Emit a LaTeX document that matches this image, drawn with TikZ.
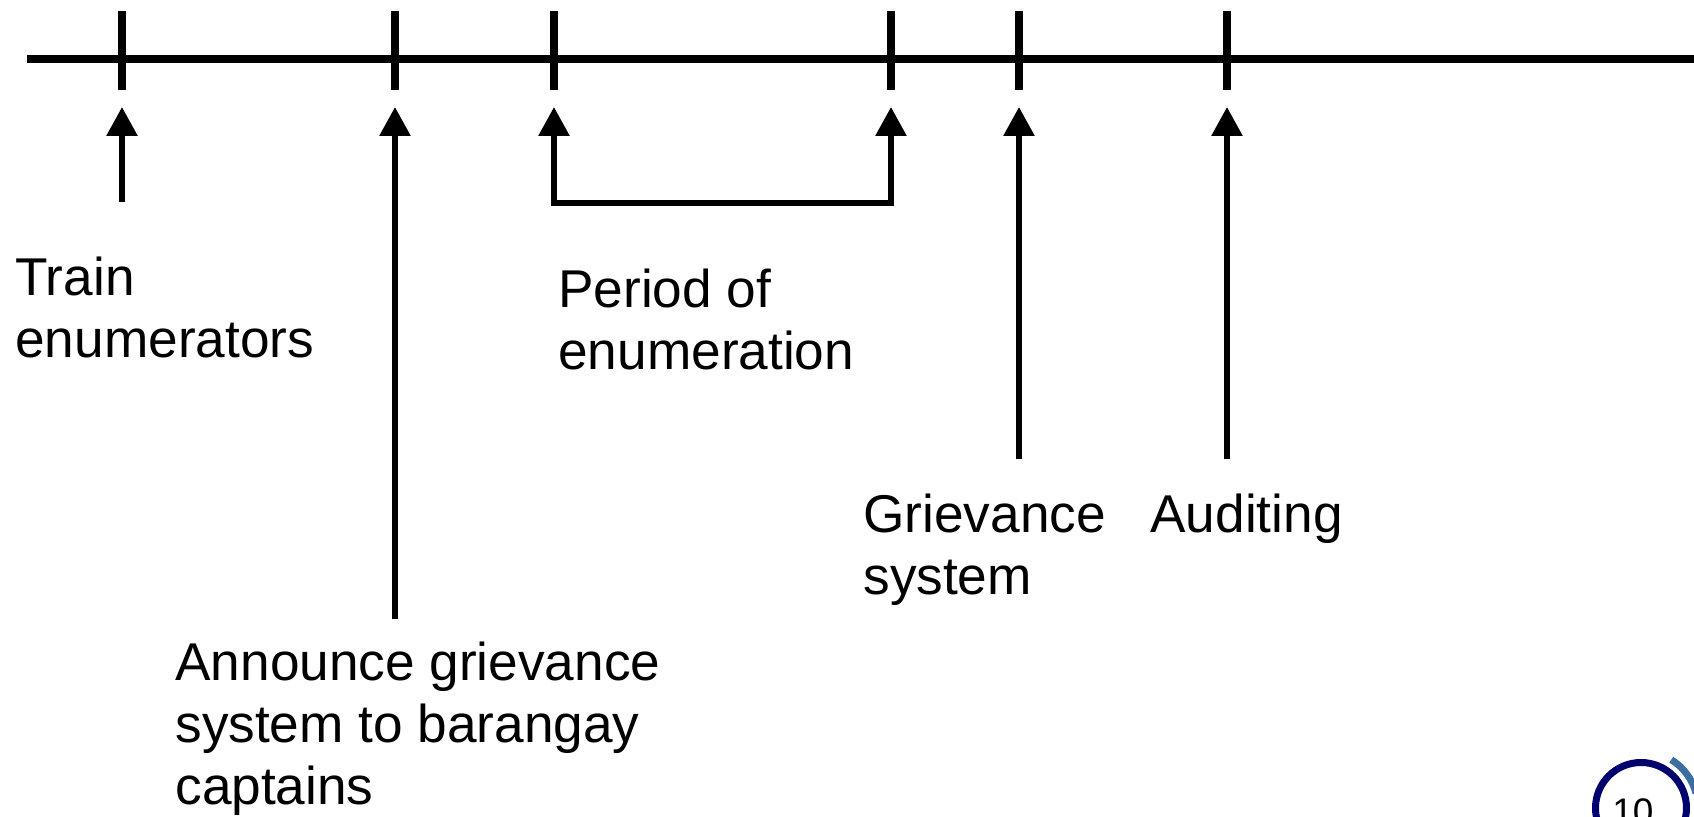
\documentclass[tikz,border=0pt]{standalone}
\usepackage{fontspec}
\setmainfont{Liberation Sans}
\usetikzlibrary{arrows.meta}
\definecolor{navy}{RGB}{0,0,110}
\definecolor{swoosh}{RGB}{60,110,160}
\begin{document}
\begin{tikzpicture}[x=0.5pt,y=-0.5pt,
  timeline/.style={line width=3.75pt},
  tickmark/.style={line width=4pt},
  pointer/.style={line width=2.9pt,-{Triangle[length=14.5pt,width=15pt]}},
  label/.style={anchor=base west,inner sep=0pt,align=left,font=\fontsize{26.6}{31}\selectfont}]
\useasboundingbox (0,0) rectangle (1694,817);
\clip (0,0) rectangle (1694,817);
% timeline
\coordinate (L) at (27,59);
\coordinate (R) at (1694,59);
\draw[timeline] (L) -- (R);
% ticks
\foreach \n/\x in {t1/122,t2/395,t3/554,t4/891,t5/1019,t6/1227}{
  \coordinate (\n top) at (\x,11);
  \coordinate (\n bot) at (\x,90);
  \coordinate (\n tip) at (\x,107);
  \draw[tickmark] (\n top) -- (\n bot);
}
% arrow tails
\coordinate (a1) at (122,202);
\coordinate (a2) at (395,619);
\coordinate (b3) at (554,203);
\coordinate (b4) at (891,203);
\coordinate (a5) at (1019,459);
\coordinate (a6) at (1227,459);
\draw[pointer] (a1) -- (t1tip);
\draw[pointer] (a2) -- (t2tip);
\draw[pointer] (b3) -- (t3tip);
\draw[pointer] (b4) -- (t4tip);
\draw[line width=2.9pt,line cap=rect] (b3) -- (b4);
\draw[pointer] (a5) -- (t5tip);
\draw[pointer] (a6) -- (t6tip);
% labels (anchor = baseline of last line)
\node[label] (train) at (15,358) {Train\\enumerators};
\node[label] (announce) at (175,805) {Announce grievance\\system to barangay\\captains};
\node[label] (period) at (558,370) {Period of\\enumeration};
\node[label] (grievance) at (863,595) {Grievance\\system};
\node[label] (audit) at (1150,533) {Auditing};
% page badge
\draw[swoosh,line width=3.5pt] (1641,808) ++(-58:57) arc[start angle=-58,end angle=-15,radius=57];
\draw[navy,line width=3.5pt] (1641,808) circle[radius=45.5];
\node[anchor=base west,inner sep=0pt,font=\fontsize{18.5}{20}\selectfont] (pnum) at (1612,824.5) {10};
\end{tikzpicture}
\end{document}
